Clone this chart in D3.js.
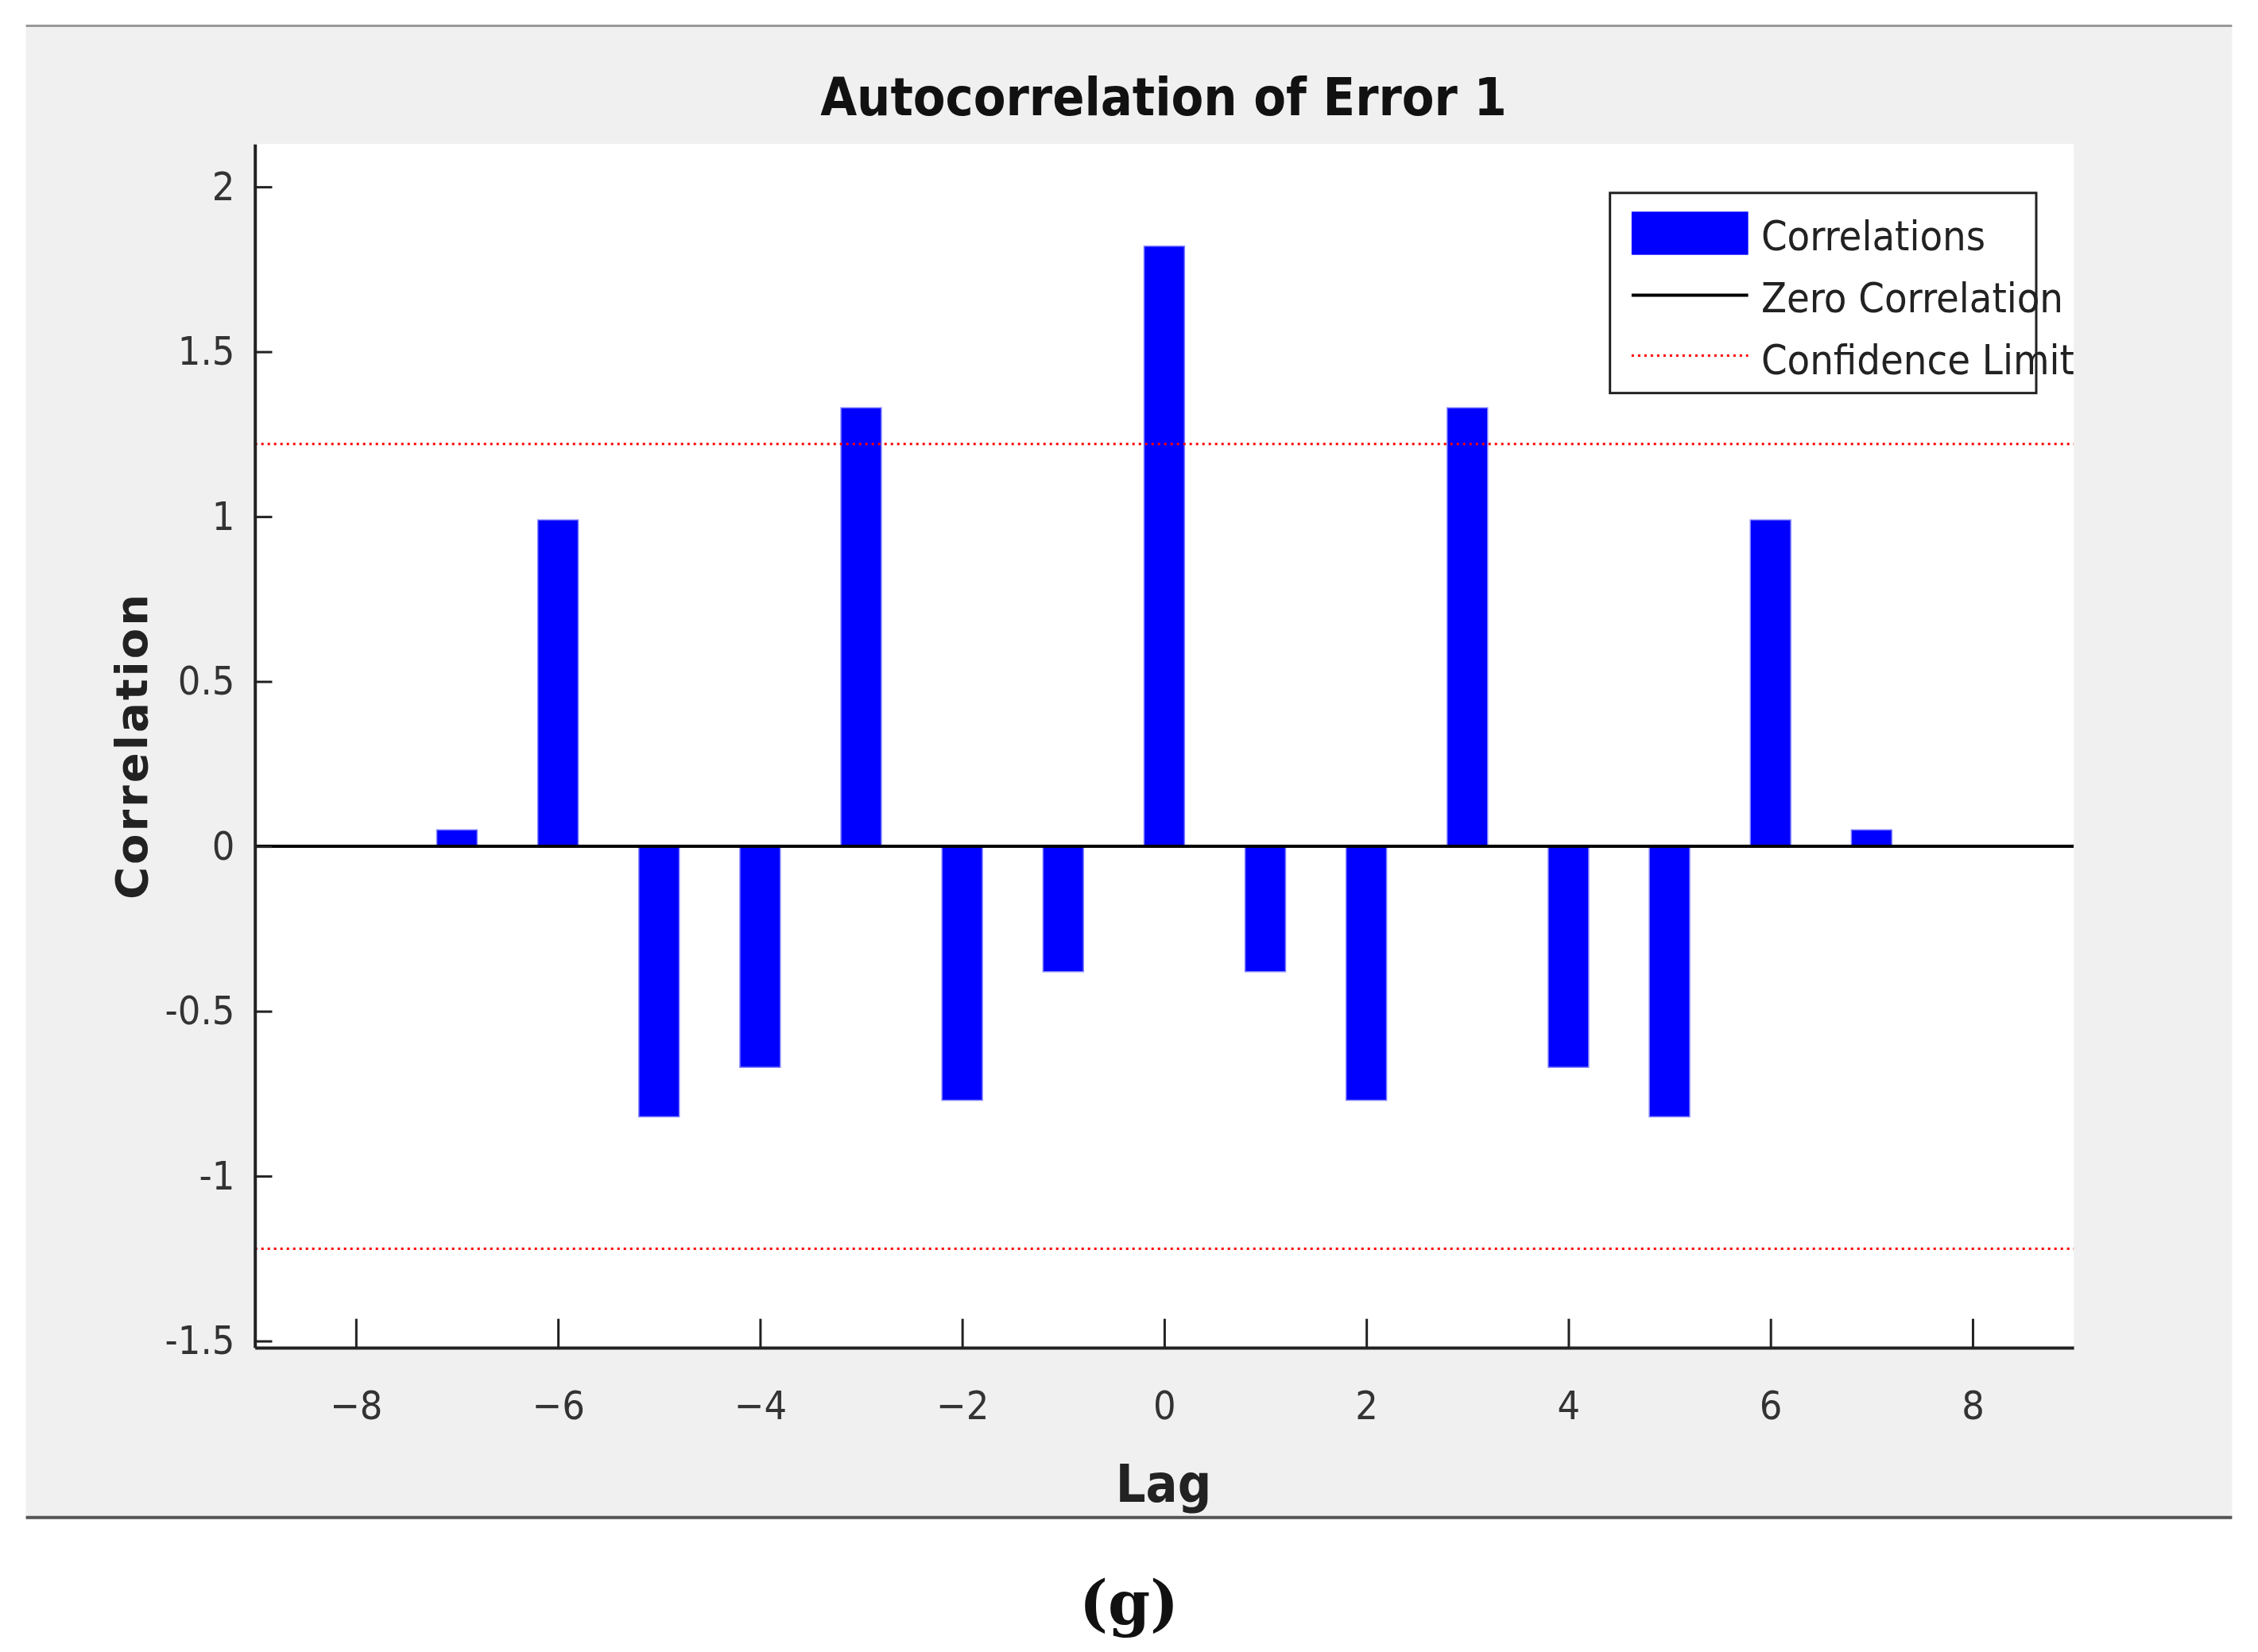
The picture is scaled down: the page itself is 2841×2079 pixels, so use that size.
<!DOCTYPE html>
<html><head><meta charset="utf-8">
<script src="https://d3js.org/d3.v7.min.js"></script>
<style>body{margin:0;background:#fff}</style>
</head><body>
<script>
var lags = [-7,-6,-5,-4,-3,-2,-1,0,1,2,3,4,5,6,7];
var correlations = [0.05,0.99,-0.82,-0.67,1.33,-0.77,-0.38,1.82,-0.38,-0.77,1.33,-0.67,-0.82,0.99,0.05];
var confidenceLimit = 1.22;
var xTicks = [-8,-6,-4,-2,0,2,4,6,8];
var yTicks = [-1.5,-1,-0.5,0,0.5,1,1.5,2];

var S = 2841/1568;
var W = 2841, H = 2079;
var svg = d3.select("body").append("svg").attr("width", W).attr("height", H);

// grey figure panel
svg.append("rect").attr("x",18*S).attr("y",18*S).attr("width",1532*S).attr("height",1036*S).attr("fill","#f0f0f0");
svg.append("line").attr("x1",18*S).attr("x2",1550*S).attr("y1",18*S).attr("y2",18*S).attr("stroke","#999").attr("stroke-width",3);
svg.append("line").attr("x1",18*S).attr("x2",1550*S).attr("y1",1054*S).attr("y2",1054*S).attr("stroke","#555").attr("stroke-width",4);

var margin = {left:177*S, top:100*S, right:1440*S, bottom:936*S};
svg.append("rect").attr("x",margin.left).attr("y",margin.top)
  .attr("width",margin.right-margin.left).attr("height",margin.bottom-margin.top).attr("fill","#fff");

var x = d3.scaleLinear().domain([-9,9]).range([margin.left, margin.right]);
var y = d3.scaleLinear().domain([-1.52,2.13]).range([margin.bottom, margin.top]);

var font = "'Liberation Sans Narrow','DejaVu Sans Condensed',Arial,sans-serif";

// bars
var bw = x(0.4) - x(0);
svg.selectAll("rect.bar").data(correlations).enter().append("rect")
  .attr("class","bar")
  .attr("x", function(d,i){ return x(lags[i]) - bw/2; })
  .attr("y", function(d){ return y(Math.max(0,d)); })
  .attr("width", bw)
  .attr("height", function(d){ return Math.abs(y(d)-y(0)); })
  .attr("fill","#0000ff").attr("stroke","#8080ff").attr("stroke-width",1.5);

// confidence limits
[confidenceLimit, -confidenceLimit].forEach(function(c){
  svg.append("line").attr("x1",margin.left).attr("x2",margin.right)
    .attr("y1",y(c)).attr("y2",y(c))
    .attr("stroke","#ff0000").attr("stroke-width",3).attr("stroke-dasharray","3,5");
});
// zero line
svg.append("line").attr("x1",margin.left).attr("x2",margin.right)
  .attr("y1",y(0)).attr("y2",y(0)).attr("stroke","#000").attr("stroke-width",4);

// axes
var xAxis = d3.axisBottom(x).tickValues(xTicks).tickSize(-20*S).tickPadding(30*S).tickSizeOuter(0);
var gx = svg.append("g").attr("transform","translate(0,"+margin.bottom+")").call(xAxis);
var yAxis = d3.axisLeft(y).tickValues(yTicks).tickSize(-12*S).tickPadding(14*S).tickSizeOuter(0)
  .tickFormat(function(d){ return String(d); });
var gy = svg.append("g").attr("transform","translate("+margin.left+",0)").call(yAxis);
[gx,gy].forEach(function(g){
  g.select(".domain").attr("stroke","#222").attr("stroke-width",4);
  g.selectAll(".tick line").attr("stroke","#222").attr("stroke-width",3);
  g.selectAll(".tick text").attr("font-family",font).attr("font-size",50).attr("fill","#333");
});

// titles
svg.append("text").attr("x",808*S).attr("y",80*S).attr("text-anchor","middle")
  .attr("font-family",font).attr("font-weight","bold").attr("font-size",66).attr("fill","#111")
  .text("Autocorrelation of Error 1");
svg.append("text").attr("x",808*S).attr("y",1043*S).attr("text-anchor","middle")
  .attr("font-family",font).attr("font-weight","bold").attr("font-size",66).attr("fill","#222")
  .text("Lag");
svg.append("text").attr("transform","translate("+(102*S)+","+(518*S)+") rotate(-90)")
  .attr("text-anchor","middle").attr("font-family","'DejaVu Sans',sans-serif").attr("font-weight","bold")
  .attr("font-size",56).attr("fill","#222").attr("letter-spacing",3).text("Correlation");

// legend
var lx = 1118*S, ly = 134*S;
svg.append("rect").attr("x",lx).attr("y",ly).attr("width",296*S).attr("height",139*S)
  .attr("fill","#fff").attr("stroke","#222").attr("stroke-width",3);
svg.append("rect").attr("x",1133*S).attr("y",147*S).attr("width",81*S).attr("height",30*S).attr("fill","#0000ff");
svg.append("line").attr("x1",1133*S).attr("x2",1214*S).attr("y1",205*S).attr("y2",205*S).attr("stroke","#000").attr("stroke-width",4);
svg.append("line").attr("x1",1133*S).attr("x2",1214*S).attr("y1",247*S).attr("y2",247*S)
  .attr("stroke","#ff0000").attr("stroke-width",3).attr("stroke-dasharray","3,5");
["Correlations","Zero Correlation","Confidence Limit"].forEach(function(t,i){
  svg.append("text").attr("x",1223*S).attr("y",(174+43*i)*S).attr("font-family",font)
    .attr("font-size",52).attr("fill","#222").text(t);
});

// caption
svg.append("text").attr("x",784*S).attr("y",1128*S).attr("text-anchor","middle")
  .attr("font-family","'DejaVu Serif','Liberation Serif',serif").attr("font-weight","bold")
  .attr("font-size",76).attr("fill","#111").text("(g)");
</script>
</body></html>
